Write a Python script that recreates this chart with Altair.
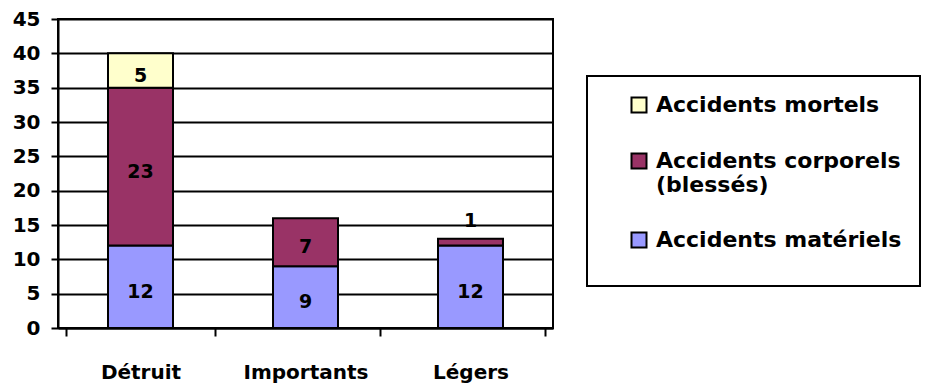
import altair as alt
import pandas as pd

categories = ["Détruit", "Importants", "Légers"]
series = ["Accidents mortels", "Accidents corporels (blessés)", "Accidents matériels"]
colors = ["#FFFFCC", "#993366", "#9999FF"]
materiels = [12, 9, 12]
corporels = [23, 7, 1]
mortels = [5, 0, 0]
y_ticks = [0, 5, 10, 15, 20, 25, 30, 35, 40, 45]

rows = []
for i, c in enumerate(categories):
    rows.append({"cat": c, "serie": series[2], "val": materiels[i], "ord": 0})
    rows.append({"cat": c, "serie": series[1], "val": corporels[i], "ord": 1})
    rows.append({"cat": c, "serie": series[0], "val": mortels[i], "ord": 2})
df = pd.DataFrame(rows)
df = df[df.val > 0]

FONT = "DejaVu Sans"
LW = 2

base = alt.Chart(df).transform_stack(
    stack="val", as_=["y0", "y1"], groupby=["cat"], sort=[alt.SortField("ord")]
).transform_calculate(mid="(datum.y0 + datum.y1) / 2")

xaxis = alt.Axis(labelAngle=0, tickBand="extent", tickSize=8, tickColor="black",
                 tickWidth=LW, domainColor="black", domainWidth=LW,
                 labelFont=FONT, labelFontSize=20, labelFontWeight="bold",
                 labelColor="black", labelPadding=26, grid=False)
yaxis = alt.Axis(values=y_ticks, grid=True, gridColor="black", gridWidth=LW,
                 tickSize=7, tickColor="black", tickWidth=LW,
                 domainColor="black", domainWidth=LW, labelOverlap=False,
                 labelFont=FONT, labelFontSize=20, labelFontWeight="bold",
                 labelColor="black", labelPadding=11)
yscale = alt.Scale(domain=[0, 45], nice=False)
xenc = alt.X("cat:N", sort=categories, title=None, axis=xaxis)

bars = base.mark_bar(size=65, stroke="black", strokeWidth=LW).encode(
    x=xenc,
    y=alt.Y("y0:Q", scale=yscale, title=None, axis=yaxis),
    y2="y1:Q",
    color=alt.Color("serie:N", scale=alt.Scale(domain=series, range=colors),
                    legend=alt.Legend(orient="none", legendX=529, legendY=57,
                                      title=" ", titleOrient="bottom", titleFontSize=8,
                                      titlePadding=8,
                                      strokeColor="black", padding=18,
                                      symbolType="square", symbolSize=225,
                                      symbolStrokeColor="black", symbolStrokeWidth=LW,
                                      symbolOffset=23, labelOffset=6,
                                      labelFont=FONT, labelFontSize=22, labelFontWeight="bold",
                                      labelColor="black", rowPadding=32, labelLimit=400,
                                      labelExpr="indexof(datum.label, ' (') > 0 ? [substring(datum.label, 0, indexof(datum.label, ' (')), substring(datum.label, indexof(datum.label, ' (') + 1)] : datum.label")),
)

labels_in = base.transform_filter("datum.val >= 3").mark_text(
    font=FONT, fontSize=19, fontWeight="bold", color="black", baseline="middle", dy=5
).encode(x=xenc, y=alt.Y("mid:Q", scale=yscale, title=None, axis=yaxis), text="val:Q")

labels_out = base.transform_filter("datum.val < 3").mark_text(
    font=FONT, fontSize=19, fontWeight="bold", color="black", baseline="bottom", dy=-8
).encode(x=xenc, y=alt.Y("y1:Q", scale=yscale, title=None, axis=yaxis), text="val:Q")

chart = alt.layer(bars, labels_in, labels_out).properties(
    width=495, height=309,
    background="white",
    autosize=alt.AutoSizeParams(type="none"),
    padding={"left": 58, "top": 19, "right": 372, "bottom": 55},
).configure_view(stroke="black", strokeWidth=LW).configure_legend(strokeWidth=LW)

chart.save("out.html", embed_options={"renderer": "svg", "actions": False})
